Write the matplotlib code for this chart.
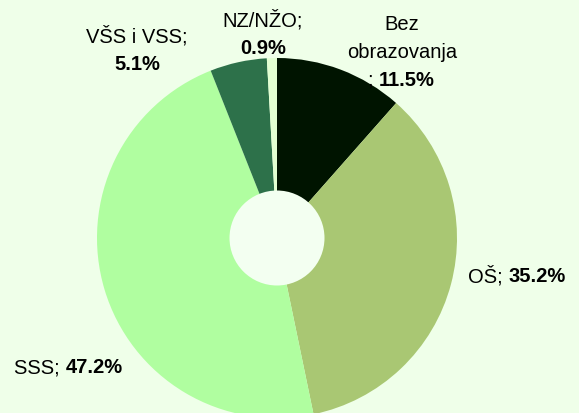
import matplotlib.pyplot as plt
from matplotlib.patches import Circle

# ==========================================
# DATA
# ==========================================

categories = ["Bez obrazovanja", "OŠ", "SSS", "VŠS i VSS", "NZ/NŽO"]
shares = [11.5, 35.2, 47.2, 5.1, 0.9]
colors = ["#001400", "#a9c773", "#b0fea0", "#2d714a", "#e2ffd2"]

# label text pieces: (name part, bold value part)
name_parts = ["Bez\nobrazovanja\n; ", "OŠ; ", "SSS; ", "VŠS i VSS;", "NZ/NŽO;"]
value_parts = ["11.5%", "35.2%", "47.2%", "5.1%", "0.9%"]

BG = "#efffe9"
FONT = ["Liberation Sans", "DejaVu Sans"]
FS = 14.5

# ==========================================
# FIGURE (1 data unit = 1 pixel, y up)
# ==========================================

fig = plt.figure(figsize=(5.79, 4.14), dpi=100, facecolor=BG)
ax = fig.add_axes([0, 0, 1, 1])
ax.set_facecolor(BG)

cx, cy, r = 277, 175, 180

ax.pie(
    shares,
    colors=colors,
    startangle=90,
    counterclock=False,
    radius=r,
    center=(cx, cy),
    frame=True,
    wedgeprops=dict(linewidth=0),
)
ax.add_patch(Circle((cx, cy), 47.5, facecolor="#f3fff1", edgecolor="none", zorder=5))

ax.set_xlim(0, 579)
ax.set_ylim(0, 414)
ax.set_aspect("equal")
ax.axis("off")

# ==========================================
# LABELS
# ==========================================

def txt(x, y, s, ha="center", bold=False):
    return ax.text(x, 414 - y, s, ha=ha, va="center", fontsize=FS,
                   family=FONT, fontweight="bold" if bold else "normal")


def inline(x, y, name, value):
    t = txt(x, y, name, ha="left")
    ax.annotate(value, xy=(1, 0.5), xycoords=t, ha="left", va="center",
                fontsize=FS, family=FONT, fontweight="bold")


# Bez obrazovanja
txt(402, 24, "Bez")
txt(402, 52, "obrazovanja")
inline(368, 80, "; ", value_parts[0])

# OŠ, SSS
inline(468, 276, name_parts[1], value_parts[1])
inline(14, 368, name_parts[2], value_parts[2])

# VŠS i VSS
txt(137, 36, name_parts[3])
txt(137, 64, value_parts[3], bold=True)

# NZ/NŽO
txt(263, 20, name_parts[4])
txt(263, 48, value_parts[4], bold=True)

plt.savefig("out.png", dpi=100, facecolor=BG)
